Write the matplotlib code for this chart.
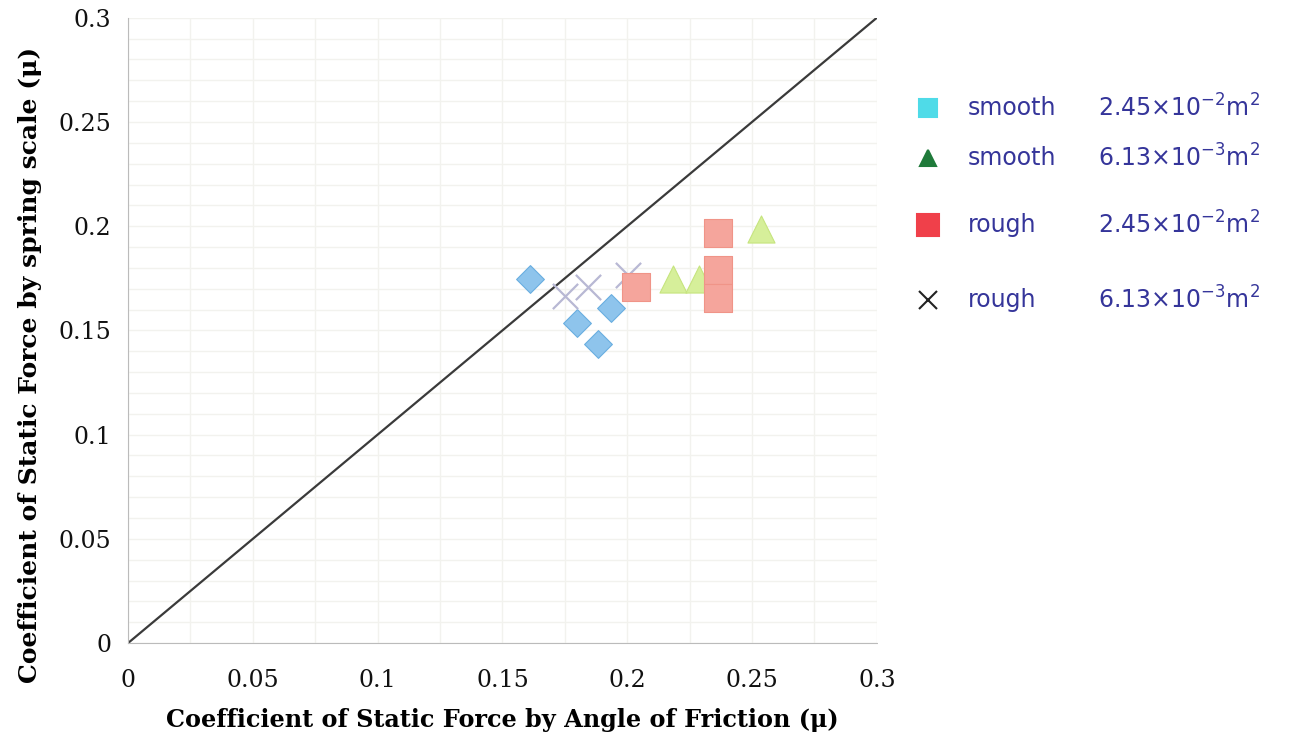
import numpy as np
import matplotlib.pyplot as plt
from matplotlib.lines import Line2D

# smooth, 2.45e-2 m^2 (blue diamonds)
smooth_big_x = [0.161, 0.1935, 0.180, 0.1884]
smooth_big_y = [0.1746, 0.1606, 0.1536, 0.1435]

# smooth, 6.13e-3 m^2 (green triangles)
smooth_small_x = [0.2185, 0.2288, 0.2535]
smooth_small_y = [0.1746, 0.1746, 0.1986]

# rough, 2.45e-2 m^2 (red squares)
rough_big_x = [0.2035, 0.2365, 0.2365, 0.2365]
rough_big_y = [0.1707, 0.1965, 0.1790, 0.1654]

# rough, 6.13e-3 m^2 (grey crosses)
rough_small_x = [0.1752, 0.1844, 0.2004]
rough_small_y = [0.1667, 0.1710, 0.1766]

legend_surface = ["smooth", "smooth", "rough", "rough"]
legend_area = [
    "2.45$\\times$10$^{-2}$m$^{2}$",
    "6.13$\\times$10$^{-3}$m$^{2}$",
    "2.45$\\times$10$^{-2}$m$^{2}$",
    "6.13$\\times$10$^{-3}$m$^{2}$",
]

ticks = [0, 0.05, 0.1, 0.15, 0.2, 0.25, 0.3]
tick_labels = ["0", "0.05", "0.1", "0.15", "0.2", "0.25", "0.3"]

fig = plt.figure(figsize=(13, 7.4), dpi=100)
ax = fig.add_axes([0.0985, 0.131, 0.576, 0.845])

# grid
for v in np.arange(0, 0.3001, 0.025):
    ax.axvline(v, color="#f2f2ee", lw=1, zorder=0)
for v in np.arange(0, 0.3001, 0.01):
    ax.axhline(v, color="#f2f2ee", lw=1, zorder=0)

ax.plot([0, 0.3], [0, 0.3], color="#3a3a3a", lw=1.6, zorder=2)

ax.scatter(smooth_big_x, smooth_big_y, marker="D", s=200, color="#8ec4ec",
           edgecolor="#6aaee0", lw=0.8, zorder=3)
ax.scatter(rough_small_x, rough_small_y, marker="x", s=330, color="#b8b8d4",
           lw=1.6, zorder=3)
ax.scatter(smooth_small_x, smooth_small_y, marker="^", s=380, color="#d6ef9a",
           edgecolor="#c6e47e", lw=0.8, zorder=3)
ax.scatter(rough_big_x, rough_big_y, marker="s", s=420, color="#f5a59c",
           edgecolor="#f09488", lw=0.8, zorder=4)

ax.set_xlim(0, 0.3)
ax.set_ylim(0, 0.3)
ax.set_xticks(ticks)
ax.set_xticklabels(tick_labels)
ax.set_yticks(ticks)
ax.set_yticklabels(tick_labels)
ax.tick_params(length=0, labelsize=17, colors="#111111")
ax.tick_params(axis="x", pad=19)
ax.tick_params(axis="y", pad=12)
for lab in ax.get_xticklabels() + ax.get_yticklabels():
    lab.set_family("DejaVu Serif")

for side in ["top", "right"]:
    ax.spines[side].set_visible(False)
for side in ["left", "bottom"]:
    ax.spines[side].set_color("#bbbbbb")
    ax.spines[side].set_linestyle((0, (2, 1)))

ax.set_xlabel("Coefficient of Static Force by Angle of Friction (\u03bc)",
              family="DejaVu Serif", fontweight="bold", fontsize=17.2)
ax.set_ylabel("Coefficient of Static Force by spring scale (\u03bc)",
              family="DejaVu Serif", fontweight="bold", fontsize=18)
ax.xaxis.set_label_coords(0.5, -0.104)
ax.yaxis.set_label_coords(-0.115, 0.445)

# hand-drawn legend on the right
W, H = 1300, 740
row_y = [108, 158, 225, 300]
markers = [("s", 13, "#4fdbe8"), ("^", 12, "#1f7a3a"),
           ("s", 16, "#f0404a"), ("x", 13, "#222222")]
for i, yp in enumerate(row_y):
    m, ms, c = markers[i]
    fig.add_artist(Line2D([928 / W], [1 - yp / H], transform=fig.transFigure,
                          ls="", marker=m, ms=ms, color=c, mew=1.5))
    fig.text(968 / W, 1 - yp / H, legend_surface[i], fontsize=17,
             color="#35359a", va="center", ha="left")
    fig.text(1098 / W, 1 - yp / H, legend_area[i], fontsize=17,
             color="#35359a", va="center", ha="left")

fig.savefig("out.png", dpi=100)
